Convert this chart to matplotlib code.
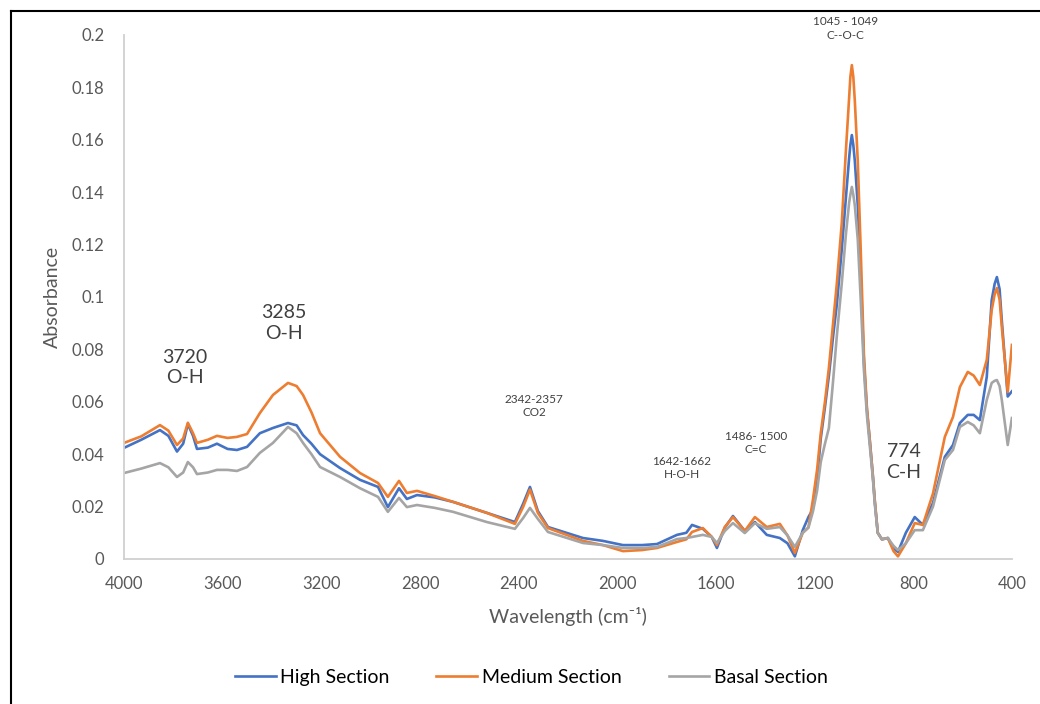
import matplotlib.pyplot as plt
from matplotlib.lines import Line2D

plt.rcParams['font.family'] = ['Lato', 'DejaVu Sans']

# FTIR spectra of the three sections
wavenumber = [4000, 3930, 3854, 3820, 3785, 3760, 3741, 3720, 3704, 3660,
              3623, 3580, 3542, 3501, 3449, 3396, 3335, 3300, 3274, 3240,
              3205, 3124, 3043, 2970, 2930, 2885, 2853, 2812, 2740, 2666,
              2529, 2415, 2382, 2354, 2322, 2281, 2139, 2058, 1977, 1900,
              1839, 1758, 1720, 1697, 1653, 1617, 1596, 1564, 1531, 1483,
              1442, 1394, 1341, 1310, 1280, 1248, 1225, 1207, 1190, 1175,
              1158, 1142, 1125, 1110, 1090, 1073, 1060, 1055, 1049, 1043,
              1037, 1025, 1013, 1000, 988, 976, 964, 956, 944, 927,
              903, 880, 862, 830, 794, 761, 720, 672, 639, 611,
              579, 555, 530, 502, 482, 470, 461, 450, 441, 417, 400]

high = [0.0424, 0.0455, 0.0492, 0.047, 0.041, 0.044, 0.0515, 0.047, 0.042, 0.0425,
        0.044, 0.042, 0.0416, 0.0428, 0.048, 0.050, 0.0519, 0.051, 0.0473, 0.044,
        0.040, 0.0347, 0.0302, 0.0275, 0.0198, 0.027, 0.0229, 0.0244, 0.0235, 0.0218,
        0.0176, 0.0141, 0.021, 0.0275, 0.0183, 0.0122, 0.008, 0.0069, 0.0053, 0.0053,
        0.0057, 0.0092, 0.010, 0.013, 0.0115, 0.0084, 0.0042, 0.012, 0.0164, 0.0107,
        0.0141, 0.0092, 0.008, 0.006, 0.001, 0.011, 0.016, 0.019, 0.030, 0.046,
        0.058, 0.070, 0.085, 0.097, 0.118, 0.138, 0.153, 0.158, 0.1618, 0.158,
        0.152, 0.135, 0.108, 0.075, 0.057, 0.045, 0.032, 0.022, 0.010, 0.0075,
        0.008, 0.004, 0.0027, 0.010, 0.016, 0.013, 0.0214, 0.039, 0.0435, 0.0519,
        0.055, 0.055, 0.053, 0.0695, 0.0988, 0.105, 0.1076, 0.103, 0.091, 0.062, 0.064]

medium = [0.0443, 0.0468, 0.0511, 0.049, 0.0435, 0.046, 0.052, 0.048, 0.0443, 0.0455,
          0.047, 0.0462, 0.0466, 0.0477, 0.0557, 0.0626, 0.0672, 0.066, 0.0626, 0.056,
          0.048, 0.039, 0.0328, 0.029, 0.0237, 0.0298, 0.0252, 0.026, 0.024, 0.0218,
          0.0176, 0.0134, 0.0198, 0.0265, 0.0176, 0.0118, 0.0069, 0.0053, 0.003, 0.0034,
          0.0042, 0.0065, 0.0075, 0.0103, 0.0118, 0.0084, 0.0053, 0.0122, 0.016, 0.0107,
          0.016, 0.0122, 0.0134, 0.009, 0.0023, 0.010, 0.012, 0.0225, 0.034, 0.048,
          0.060, 0.073, 0.090, 0.105, 0.128, 0.156, 0.176, 0.184, 0.1885, 0.184,
          0.175, 0.152, 0.118, 0.078, 0.058, 0.045, 0.032, 0.0225, 0.010, 0.0075,
          0.008, 0.003, 0.001, 0.006, 0.0137, 0.013, 0.025, 0.0466, 0.0542, 0.0656,
          0.0714, 0.070, 0.0664, 0.076, 0.095, 0.101, 0.1034, 0.099, 0.0886, 0.0637, 0.0817]

basal = [0.0328, 0.0345, 0.0366, 0.035, 0.0313, 0.033, 0.037, 0.035, 0.0324, 0.033,
         0.034, 0.034, 0.0336, 0.0351, 0.0405, 0.0443, 0.0504, 0.048, 0.0443, 0.040,
         0.0351, 0.0313, 0.027, 0.0237, 0.018, 0.0233, 0.0198, 0.0206, 0.0195, 0.018,
         0.0141, 0.0115, 0.0156, 0.0195, 0.0153, 0.0103, 0.0061, 0.0053, 0.0042, 0.0042,
         0.0046, 0.0076, 0.008, 0.0084, 0.0092, 0.0084, 0.0061, 0.0107, 0.0137, 0.0099,
         0.0137, 0.0115, 0.0122, 0.009, 0.0046, 0.010, 0.012, 0.018, 0.026, 0.037,
         0.044, 0.050, 0.068, 0.085, 0.105, 0.124, 0.136, 0.139, 0.142, 0.139,
         0.135, 0.122, 0.099, 0.072, 0.055, 0.043, 0.031, 0.021, 0.010, 0.0075,
         0.008, 0.005, 0.0034, 0.006, 0.011, 0.011, 0.020, 0.0378, 0.0416, 0.0504,
         0.0523, 0.051, 0.048, 0.0607, 0.0672, 0.068, 0.0683, 0.066, 0.0607, 0.0435, 0.0538]

# band assignments: (text, wavenumber, absorbance, fontsize)
bands = [('3720\nO-H', 3753, 0.073, 14),
         ('3285\nO-H', 3351, 0.090, 14),
         ('2342-2357\nCO2', 2338, 0.0584, 8.5),
         ('1642-1662\nH-O-H', 1738, 0.0347, 8.5),
         ('1486- 1500\nC=C', 1438, 0.0443, 8.5),
         ('1045 - 1049\nC--O-C', 1073, 0.2025, 8.5),
         ('774\nC-H', 838, 0.037, 14)]

fig = plt.figure(figsize=(10.4, 7.04), dpi=100)
ax = fig.add_axes([0.1192, 0.206, 0.8538, 0.7443])

ax.plot(wavenumber, high, color='#4472C4', lw=1.9, label='High Section')
ax.plot(wavenumber, medium, color='#ED7D31', lw=1.9, label='Medium Section')
ax.plot(wavenumber, basal, color='#A5A5A5', lw=1.9, label='Basal Section')

ax.set_xlim(4000, 400)
ax.set_ylim(0, 0.2)
ax.set_xticks(range(4000, 399, -400))
ax.set_yticks([i * 0.02 for i in range(11)])
ax.set_yticklabels(['0', '0.02', '0.04', '0.06', '0.08', '0.1',
                    '0.12', '0.14', '0.16', '0.18', '0.2'])
ax.tick_params(length=0, labelsize=12, labelcolor='#595959')
ax.tick_params(axis='x', pad=12)
ax.tick_params(axis='y', pad=14)

for side in ['top', 'right']:
    ax.spines[side].set_visible(False)
for side in ['left', 'bottom']:
    ax.spines[side].set_color('#D0D0D0')
    ax.spines[side].set_linewidth(1.3)

ax.set_xlabel('Wavelength (cm\u207b\u00b9)', fontsize=14, color='#595959', labelpad=11)
ax.set_ylabel('Absorbance', fontsize=14, color='#595959', labelpad=8)

for text, wn, ab, fs in bands:
    ax.text(wn, ab, text, ha='center', va='center', fontsize=fs,
            color='#404040', linespacing=1.25, clip_on=False)

fig.legend(loc='center', bbox_to_anchor=(0.511, 0.038), ncol=3, frameon=False,
           fontsize=14, handlelength=2.1, handletextpad=0.25, columnspacing=2.4)

# frame around the chart area
fig.add_artist(Line2D([10.5 / 1040, 10.5 / 1040], [0, 1 - 10.5 / 704],
                      color='black', lw=1.5, transform=fig.transFigure))
fig.add_artist(Line2D([10.5 / 1040, 1], [1 - 10.5 / 704, 1 - 10.5 / 704],
                      color='black', lw=1.5, transform=fig.transFigure))

plt.savefig('out.png', dpi=100)
